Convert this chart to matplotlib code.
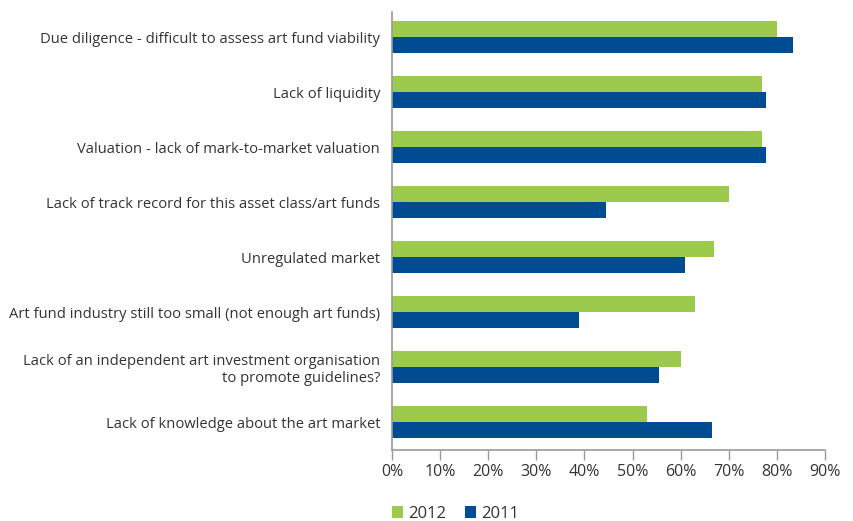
import numpy as np
import matplotlib.pyplot as plt

plt.rcParams['font.family'] = ['Open Sans', 'DejaVu Sans']

categories = [
    'Due diligence - difficult to assess art fund viability',
    'Lack of liquidity',
    'Valuation - lack of mark-to-market valuation',
    'Lack of track record for this asset class/art funds',
    'Unregulated market',
    'Art fund industry still too small (not enough art funds)',
    'Lack of an independent art investment organisation\nto promote guidelines?',
    'Lack of knowledge about the art market',
]
values_2012 = [80, 77, 77, 70, 67, 63, 60, 53]
values_2011 = [83.3, 77.7, 77.7, 44.4, 61, 38.8, 55.5, 66.5]

green = '#9BCA4C'
blue = '#004C93'
grey = '#9A9A9A'
text_col = '#333333'

fig = plt.figure(figsize=(8.54, 5.21), dpi=100)
ax = fig.add_axes([0.459, 0.136, 0.507, 0.841])

y = np.arange(len(categories))
h = 0.29
ax.barh(y - h / 2, values_2012, height=h, color=green, label='2012')
ax.barh(y + h / 2, values_2011, height=h, color=blue, label='2011')

ax.set_xlim(0, 90)
ax.set_ylim(7.51, -0.46)
ax.set_xticks(np.arange(0, 91, 10))
ax.set_xticklabels([f'{v}%' for v in range(0, 91, 10)])
ax.set_yticks(y)
ax.set_yticklabels(categories, ha='right', multialignment='right')

for s in ['top', 'right']:
    ax.spines[s].set_visible(False)
for s in ['left', 'bottom']:
    ax.spines[s].set_color(grey)
    ax.spines[s].set_linewidth(1.2)

ax.tick_params(axis='y', length=0, pad=8.5, labelsize=10.6, labelcolor=text_col)
ax.tick_params(axis='x', length=7, width=1, color=grey, pad=3,
               labelsize=11.5, labelcolor=text_col)

fig.legend(loc='lower left', bbox_to_anchor=(0.441, -0.03), ncol=2,
           frameon=False, handlelength=0.7, handleheight=0.7,
           handletextpad=0.3, columnspacing=1.1,
           prop={'size': 12}, labelcolor=text_col)

fig.savefig('out.png', dpi=100)
